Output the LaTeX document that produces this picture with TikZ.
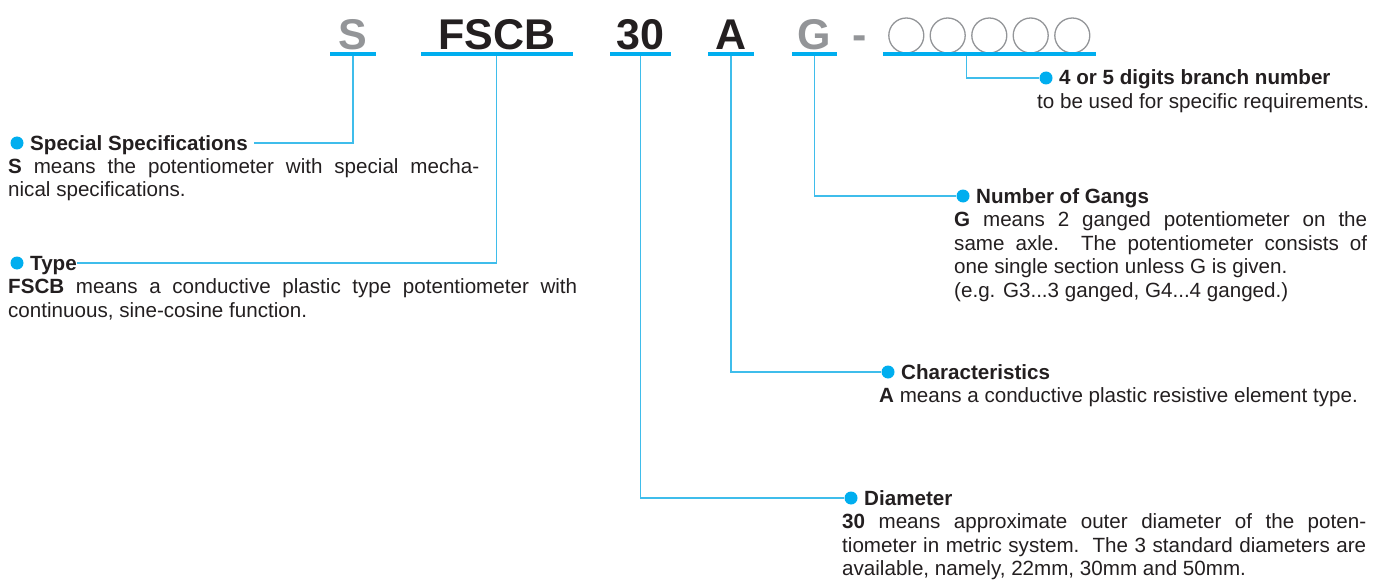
\documentclass[tikz,border=0pt]{standalone}
\usepackage{fontspec}
\setmainfont{Liberation Sans}
\usetikzlibrary{calc}
\definecolor{cy}{HTML}{00AEEF}
\definecolor{cyl}{HTML}{3FBDEB}
\definecolor{ink}{HTML}{231F20}
\definecolor{gr}{HTML}{939598}
\begin{document}
\begin{tikzpicture}[x=1pt,y=-1pt,
 code/.style={font=\fontsize{43}{43}\selectfont\bfseries, inner sep=0pt, anchor=base},
 uline/.style={fill=cy, inner sep=0pt, minimum height=4pt},
 conn/.style={draw=cyl, line width=1.1pt},
 dot/.style={circle, fill=cy, inner sep=0pt, minimum size=13pt},
 head/.style={font=\fontsize{20.6}{23.5}\selectfont\bfseries, text=ink, inner sep=0pt, anchor=base west},
 body/.style={font=\fontsize{20.6}{23.5}\selectfont, text=ink, inner sep=0pt, anchor=base west},
 ring/.style={circle, draw=gr, line width=1.3pt, minimum size=35pt, inner sep=0pt}]
\useasboundingbox (0,0) rectangle (1376,583);
% code letters
\node[code, text=gr] (cS) at (352.5,49.5) {S};
\node[code, text=ink] (cF) at (496.7,49.5) {FSCB};
\node[code, text=ink] (c30) at (640,49.5) {30};
\node[code, text=ink] (cA) at (730.7,49.5) {A};
\node[code, text=gr] (cG) at (814,49.5) {G};
\node[code, text=gr] (cD) at (860,49.5) {-};
\foreach \i/\x in {1/906.3,2/947.7,3/989.3,4/1030.7,5/1072.3}
  \node[ring] (r\i) at (\x,35.5) {};
% underlines
\node[uline, minimum width=46pt] (uS) at (353,53.7) {};
\node[uline, minimum width=151.7pt] (uF) at (496.9,53.7) {};
\node[uline, minimum width=60.7pt] (u30) at (640.3,53.7) {};
\node[uline, minimum width=46pt] (uA) at (731,53.7) {};
\node[uline, minimum width=45pt] (uG) at (814.2,53.7) {};
\node[uline, minimum width=212.7pt] (uC) at (989.7,53.7) {};
\coordinate (vC) at (966.7,55.7);
% Special Specifications
\node[dot] (bS) at (17,143) {};
\node[head] (hS) at (30,150) {Special Specifications};
\node[body] (nS) at (8,173.5) {\vtop{\hbox to 471pt{\textbf{S} means the potentiometer with special mecha-}\hbox{nical specifications.}}};
% Type
\node[dot] (bT) at (17,263) {};
\node[head] (hT) at (30,270) {Type};
\node[body] (nT) at (8,293.5) {\vtop{\hbox to 569pt{\textbf{FSCB} means a conductive plastic type potentiometer with}\hbox{continuous, sine-cosine function.}}};
% Branch number
\node[dot] (bB) at (1046,78) {};
\node[head] (hB) at (1059,85) {4 or 5 digits branch number};
\node[body] (nB) at (1037,108.5) {to be used for specific requirements.};
% Number of gangs
\node[dot] (bG) at (963,196) {};
\node[head] (hG) at (976,203) {Number of Gangs};
\node[body] (nG) at (954,226.5) {\vtop{\hbox to 413pt{\textbf{G} means 2 ganged potentiometer on the}\hbox to 413pt{same axle.\ \ The potentiometer consists of}\hbox{one single section unless G is given.}\hbox{(e.g. G3...3 ganged, G4...4 ganged.)}}};
% Characteristics
\node[dot] (bC) at (888,372) {};
\node[head] (hC) at (901,379) {Characteristics};
\node[body] (nC) at (879,402.5) {\textbf{A} means a conductive plastic resistive element type.};
% Diameter
\node[dot] (bD) at (851,498) {};
\node[head] (hD) at (864,505) {Diameter};
\node[body] (nD) at (842,528.5) {\vtop{\hbox to 524pt{\textbf{30} means approximate outer diameter of the poten-}\hbox to 524pt{tiometer in metric system.\ \ The 3 standard diameters are}\hbox{available, namely, 22mm, 30mm and 50mm.}}};
% connectors
\draw[conn] (uS.south) |- ([xshift=6pt]hS.east |- bS.center);
\draw[conn] (uF.south) |- (hT.east |- bT.center);
\draw[conn] (vC) |- (bB.west);
\draw[conn] (uG.south) |- (bG.west);
\draw[conn] (uA.south) |- (bC.west);
\draw[conn] (u30.south) |- (bD.west);
\end{tikzpicture}
\end{document}
